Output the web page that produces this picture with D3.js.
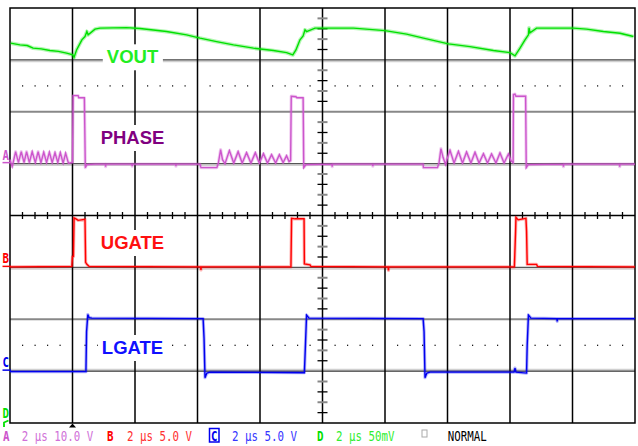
<!DOCTYPE html>
<html>
<head>
<meta charset="utf-8">
<script src="https://cdn.jsdelivr.net/npm/d3@7"></script>
<style>
  body { margin: 0; background: #fff; }
  svg { display: block; }
</style>
</head>
<body>
<svg id="scope" width="638" height="446"></svg>
<script>
// time base: 10 div x 2 us, 8 vertical divisions
const timeDomain = [0, 20];
const triggerTime = 2.0;

// channel A - PHASE, [t (us), volts], 10 V/div
const phase = [
  [0, 0.77], [0.07, -0.58], [0.10, 0.19], [0.18, 2.31], [0.27, 0.19], [0.36, 2.31], [0.45, 0.19],
  [0.53, 2.31], [0.62, 0.19], [0.71, 2.31], [0.81, 0.19], [0.90, 2.31], [0.99, 0.19], [1.08, 2.22],
  [1.17, 0.19], [1.26, 2.22], [1.35, 0.19], [1.44, 2.12], [1.53, 0.19], [1.61, 2.12], [1.70, 0.1],
  [1.78, 2.02], [1.87, 0.1], [1.97, 0.19], [2.00, 0.19], [2.02, 13.1], [2.18, 13.1], [2.20, 12.7],
  [2.38, 12.7], [2.41, -0.77], [2.46, -0.19], [2.72, -0.1], [3.05, -0.1], [3.06, -0.6], [3.07, -0.1],
  [3.90, -0.1], [3.91, -0.5], [3.92, -0.1], [5.30, -0.1], [5.31, -0.5], [5.32, -0.1],
  [6.08, -0.1], [6.11, -0.77], [6.62, -0.77],
  [6.67, 0.19], [6.74, 2.70], [6.80, 0.77], [6.88, 0], [7.02, 2.51], [7.16, 0.1], [7.30, 2.31],
  [7.43, 0.1], [7.57, 2.12], [7.71, 0.1], [7.85, 2.12], [7.98, 0.1], [8.11, 1.93], [8.24, 0.1],
  [8.37, 1.73], [8.50, 0.1], [8.62, 1.73], [8.74, 0.19], [8.85, 1.54], [8.93, 0.39], [8.98, 0.58],
  [9.00, 13.0], [9.15, 12.9], [9.18, 12.7], [9.38, 12.7], [9.40, -0.77], [9.47, -0.19],
  [10.30, -0.1], [10.31, -0.6], [10.32, -0.1], [11.60, -0.1], [11.61, -0.5], [11.62, -0.1],
  [13.22, -0.1],
  [13.23, -0.77], [13.68, -0.77], [13.73, 0.19], [13.79, 2.89], [13.86, 1.16], [13.94, -0.19],
  [13.98, 0.77], [14.08, 2.56], [14.21, 0.1], [14.35, 2.37], [14.48, 0.1], [14.61, 2.25], [14.75, 0.1],
  [14.88, 2.18], [15.01, 0.1], [15.15, 1.93], [15.28, 0.1], [15.41, 1.87], [15.55, 0.1], [15.68, 2.06],
  [15.81, 0.1], [15.95, 1.87], [16.03, 0.58], [16.10, 0.19], [16.11, 13.3], [16.16, 13.4], [16.19, 13.0],
  [16.50, 13.0], [16.52, -0.77], [16.58, -0.19], [17.70, -0.1], [17.71, -0.6], [17.72, -0.1],
  [19.50, -0.1], [19.51, -0.6], [19.52, -0.1], [20, -0.1]
];

// channel B - UGATE, 5 V/div
const ugate = [
  [0, 0.05], [1.98, 0.1], [2.00, 1.06], [2.03, 1.06], [2.05, 4.77], [2.11, 4.68], [2.18, 4.53],
  [2.40, 4.63], [2.42, 0.48], [2.46, 0.29], [2.53, 0.1], [6.10, 0.05], [6.11, -0.25], [6.12, 0.05],
  [8.99, 0.05], [9.01, 4.72], [9.12, 4.68],
  [9.41, 4.68], [9.42, 0.34], [9.60, 0.24], [9.63, 0.1], [12.10, 0.05], [12.11, -0.3], [12.12, 0.05],
  [16.14, 0.05], [16.18, 3.57], [16.19, 4.82],
  [16.26, 4.58], [16.51, 4.72], [16.53, 3.47], [16.55, 0.29], [16.85, 0.29], [16.88, 0.1], [20, 0.05]
];

// channel C - LGATE, 5 V/div
const lgate = [
  [0, -0.05], [2.43, -0.05], [2.45, 3.81], [2.49, 5.45], [2.53, 5.16], [2.62, 5.11], [6.18, 5.06],
  [6.21, 3.13], [6.24, -0.63], [6.30, -0.19], [6.40, -0.1], [9.42, -0.15], [9.45, 2.17], [9.49, 5.40],
  [9.57, 5.11], [13.22, 5.06], [13.25, 3.81], [13.28, -0.63], [13.34, -0.19], [13.44, -0.1],
  [16.13, -0.1], [16.16, 0.29], [16.19, -0.1], [16.53, -0.19], [16.55, 2.46], [16.59, 5.40],
  [16.67, 5.11], [17.50, 5.06], [17.51, 4.80], [17.52, 5.06], [20, 5.06]
];

// channel D - VOUT ripple, mV (50 mV/div, AC view)
const vout = [
  [0.02, 16.1], [0.32, 14.5], [0.55, 13.8], [0.74, 11.3], [1.00, 10.6], [1.28, 9.0], [1.55, 8.2],
  [1.81, 6.5], [2.01, 4.8], [2.05, 2.5], [2.13, 9.6],
  [2.30, 19.3], [2.40, 22.5], [2.46, 27.3], [2.50, 24.1], [2.72, 29.6], [2.88, 30.6], [3.73, 31.1],
  [4.16, 30.2], [5.01, 27.3], [5.65, 24.1], [6.08, 20.9], [6.61, 17.6], [7.15, 14.5], [7.79, 11.3],
  [8.43, 9.0], [8.85, 7.0], [9.05, 4.8], [9.15, 9.6], [9.28, 19.3], [9.38, 23.1], [9.44, 28.9],
  [9.49, 27.3], [9.76, 30.6], [10.03, 30.6], [10.99, 30.6], [12.0, 28.2], [12.69, 24.8], [13.23, 20.9],
  [14.03, 15.4], [14.72, 12.8], [15.47, 9.0], [16.0, 7.0], [16.16, 3.9], [16.32, 11.3], [16.48, 19.3],
  [16.59, 24.1], [16.61, 30.8], [16.64, 26.0], [16.85, 30.6], [18.03, 30.6], [18.45, 29.6],
  [18.99, 27.3], [19.52, 25.7], [19.95, 22.5]
];

// channel setup: ground position (divisions from top) and units per division
const channels = [
  { key: "A", name: "PHASE", data: phase, groundDiv: 3, perDiv: 10 },
  { key: "B", name: "UGATE", data: ugate, groundDiv: 5, perDiv: 5 },
  { key: "C", name: "LGATE", data: lgate, groundDiv: 7, perDiv: 5 },
  { key: "D", name: "VOUT", data: vout, groundDiv: 1, perDiv: 50 }
];

const statusItems = [
  { key: "A", text: "2 μs 10.0 V" },
  { key: "B", text: "2 μs 5.0 V" },
  { key: "C", text: "2 μs 5.0 V" },
  { key: "D", text: "2 μs 50mV" }
];
const modeLabel = "NORMAL";

const traceColor = { A: "#cc55cc", B: "#ff0000", C: "#0000ee", D: "#00e000" };
const labelColor = { A: "#800080", B: "#ff1010", C: "#1010ff", D: "#22ee22" };
const statusColor = { A: "#d070d8", B: "#ff3030", C: "#3535ff", D: "#30ee30" };

const svg = d3.select("#scope");
const gLeft = 10, gRight = 635, gTop = 8, gBottom = 423;

const x = d3.scaleLinear().domain(timeDomain).range([gLeft, gRight]);
const yDiv = d3.scaleLinear().domain([0, 8]).range([gTop, gBottom]);
const chY = ch => d3.scaleLinear()
  .domain([ch.groundDiv * ch.perDiv, (ch.groundDiv - 8) * ch.perDiv])
  .range([gTop, gBottom]);

svg.append("rect").attr("width", 638).attr("height", 446).attr("fill", "#fff");

const grid = svg.append("g");

// faint ghost lines next to some graticule lines
[[1, 1.6], [5, 1.6], [7, -1.6], [3, 1.6]].forEach(([d, dy]) => {
  grid.append("line")
    .attr("x1", gLeft).attr("x2", gRight)
    .attr("y1", yDiv(d) + dy).attr("y2", yDiv(d) + dy)
    .attr("stroke", "#d0d0d0").attr("stroke-width", 1.5);
});

// horizontal graticule
const hStyle = {
  1: ["#444", 1.3], 2: ["#888", 2.2], 3: ["#555", 1.3], 4: ["#000", 1.6],
  5: ["#555", 1.3], 6: ["#888", 2.2], 7: ["#333", 1.3]
};
d3.range(1, 8).forEach(d => {
  grid.append("line")
    .attr("x1", gLeft).attr("x2", gRight)
    .attr("y1", yDiv(d)).attr("y2", yDiv(d))
    .attr("stroke", hStyle[d][0]).attr("stroke-width", hStyle[d][1]);
});

// vertical graticule
d3.range(1, 10).forEach(d => {
  grid.append("line")
    .attr("x1", x(d * 2)).attr("x2", x(d * 2))
    .attr("y1", gTop).attr("y2", gBottom)
    .attr("stroke", "#000").attr("stroke-width", 1.5);
});

// minor ticks on centre axes
const minorT = d3.range(0, 20.001, 0.4).filter(t => Math.abs(t / 2 - Math.round(t / 2)) > 0.01);
grid.selectAll(".xt").data(minorT).join("line")
  .attr("x1", d => x(d)).attr("x2", d => x(d))
  .attr("y1", yDiv(4) - 3.5).attr("y2", yDiv(4) + 3.5)
  .attr("stroke", "#000").attr("stroke-width", 1.3);

const minorD = d3.range(0, 8.001, 0.2).filter(d => Math.abs(d - Math.round(d)) > 0.01);
grid.selectAll(".yt").data(minorD).join("line")
  .attr("x1", x(10) - 5).attr("x2", x(10) + 5)
  .attr("y1", d => yDiv(d)).attr("y2", d => yDiv(d))
  .attr("stroke", (d, i) => i % 2 ? "#000" : "#888")
  .attr("stroke-width", (d, i) => i % 2 ? 1.3 : 2);

// dotted half-division rows
[1.5, 6.5].forEach(d => {
  grid.selectAll(null).data(minorT).join("rect")
    .attr("x", t => x(t) - 0.5).attr("y", yDiv(d) - 0.5)
    .attr("width", 1.2).attr("height", 1.2).attr("fill", "#000");
});

// frame
grid.append("rect")
  .attr("x", gLeft).attr("y", gTop)
  .attr("width", gRight - gLeft).attr("height", gBottom - gTop)
  .attr("fill", "none").attr("stroke", "#000").attr("stroke-width", 1.5);

// trigger marker
const tx = x(triggerTime);
svg.append("path")
  .attr("d", `M${tx - 3.5},${gBottom + 4.5}L${tx},${gBottom + 0.5}L${tx + 3.5},${gBottom + 4.5}Z`)
  .attr("fill", "#000");

// labels with white boxes (drawn before the traces)
const labelPos = { D: 63.3, A: 144, B: 249, C: 354 };
const labels = svg.append("g");
channels.forEach(ch => {
  const g = labels.append("g");
  const t = g.append("text")
    .attr("x", 132.5).attr("y", labelPos[ch.key])
    .attr("text-anchor", "middle")
    .attr("font-family", "Liberation Sans, Arial, sans-serif")
    .attr("font-weight", "bold").attr("font-size", 18.5)
    .attr("fill", labelColor[ch.key])
    .text(ch.name);
  const bb = t.node().getBBox();
  g.insert("rect", "text")
    .attr("x", bb.x - 4).attr("y", bb.y - 2)
    .attr("width", bb.width + 8).attr("height", bb.height + 5)
    .attr("fill", "#fff");
});

// traces
const traces = svg.append("g");
channels.forEach(ch => {
  const y = chY(ch);
  const line = d3.line().x(d => x(d[0])).y(d => y(d[1]));
  traces.append("path")
    .attr("d", line(ch.data)).attr("fill", "none")
    .attr("stroke", traceColor[ch.key]).attr("stroke-opacity", 0.3)
    .attr("stroke-width", ch.key === "D" ? 3.8 : 3.2).attr("stroke-linejoin", "round");
  traces.append("path")
    .attr("d", line(ch.data)).attr("fill", "none")
    .attr("stroke", traceColor[ch.key]).attr("stroke-width", 1.4);
});

// small pixel-style text: natural width from a small font, stretched vertically
const markerFont = "DejaVu Sans Mono, monospace";
function pixelText(g, px, py, str, color, bold) {
  return g.append("text")
    .attr("transform", `translate(${px},${py}) scale(1,1.35)`)
    .attr("font-family", markerFont).attr("font-size", 10.8)
    .attr("font-weight", bold ? "bold" : "normal")
    .attr("fill", color).text(str);
}

// channel ground markers on the left edge
channels.filter(ch => ch.key !== "D").forEach(ch => {
  const gy = chY(ch)(0);
  pixelText(svg, 2.5, gy - 4, ch.key, traceColor[ch.key], true);
  svg.append("line")
    .attr("x1", 2.5).attr("x2", 11).attr("y1", gy - 1).attr("y2", gy - 1)
    .attr("stroke", traceColor[ch.key]).attr("stroke-width", 1.5);
});
pixelText(svg, 2.5, 418, "D", traceColor.D, true);
svg.append("path")
  .attr("d", "M4,427L4,422.5L8.5,420.5")
  .attr("fill", "none").attr("stroke", traceColor.D).attr("stroke-width", 1.8);

// status bar
const statusX = [
  { key: 3, text: 21.7 },
  { key: 107, text: 127 },
  { key: 211, text: 232 },
  { key: 317, text: 336 }
];
const status = svg.append("g");
statusItems.forEach((s, i) => {
  const p = statusX[i];
  if (s.key === "C") {
    status.append("rect")
      .attr("x", p.key - 1.5).attr("y", 428.5).attr("width", 9.5).attr("height", 13.5)
      .attr("fill", "none").attr("stroke", traceColor.C).attr("stroke-width", 1.5);
  }
  pixelText(status, p.key, 440.5, s.key, traceColor[s.key], true);
  pixelText(status, p.text, 440.5, s.text, statusColor[s.key], false);
});
status.append("rect")
  .attr("x", 422).attr("y", 430).attr("width", 5).attr("height", 7)
  .attr("fill", "none").attr("stroke", "#aaa").attr("stroke-width", 1);
pixelText(status, 447.7, 440.5, modeLabel, "#000", false);
</script>
</body>
</html>
